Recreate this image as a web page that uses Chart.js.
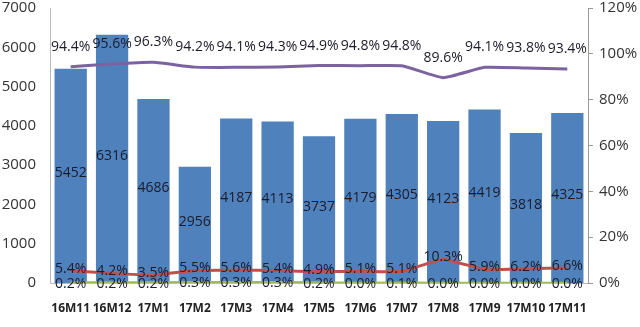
<!DOCTYPE html>
<html>
<head>
<meta charset="utf-8">
<script src="https://cdn.jsdelivr.net/npm/chart.js@4"></script>
<style>
  html, body { margin: 0; padding: 0; background: #fff; overflow: hidden; }
  #wrap { width: 640px; height: 342px; position: relative; top: -15px; }
</style>
</head>
<body>
<div id="wrap"><canvas id="c"></canvas></div>
<script>
// values
const months = ['16M11', '16M12', '17M1', '17M2', '17M3', '17M4', '17M5', '17M6', '17M7', '17M8', '17M9', '17M10', '17M11'];
const counts = [5452, 6316, 4686, 2956, 4187, 4113, 3737, 4179, 4305, 4123, 4419, 3818, 4325];
const rateHigh = [94.4, 95.6, 96.3, 94.2, 94.1, 94.3, 94.9, 94.8, 94.8, 89.6, 94.1, 93.8, 93.4];
const rateMid = [5.4, 4.2, 3.5, 5.5, 5.6, 5.4, 4.9, 5.1, 5.1, 10.3, 5.9, 6.2, 6.6];
const rateLow = [0.2, 0.2, 0.2, 0.3, 0.3, 0.3, 0.2, 0.0, 0.1, 0.0, 0.0, 0.0, 0.0];
const leftTicks = [0, 1000, 2000, 3000, 4000, 5000, 6000, 7000];
const rightTicks = [0, 20, 40, 60, 80, 100, 120];

const FONT = '"Open Sans", sans-serif';

// draws the value labels on bars and points
const valueLabels = {
    id: 'valueLabels',
    afterDatasetsDraw(chart) {
        const ctx = chart.ctx;
        ctx.save();
        ctx.font = '14px ' + FONT;
        ctx.fillStyle = '#1b1b2a';
        ctx.textAlign = 'center';
        ctx.textBaseline = 'middle';
        chart.data.datasets.forEach((ds, i) => {
            const meta = chart.getDatasetMeta(i);
            meta.data.forEach((el, j) => {
                let x = el.x, y = el.y, txt;
                if (ds.type === 'bar') {
                    y = (el.y + el.base) / 2 - 3;
                    txt = String(ds.data[j]);
                } else {
                    txt = ds.data[j].toFixed(1) + '%';
                    y += ds.labelShift;
                }
                ctx.fillText(txt, x, y);
            });
        });
        ctx.restore();
    }
};

const ctx = document.getElementById('c').getContext('2d');
new Chart(ctx, {
    type: 'bar',
    data: {
        labels: months,
        datasets: [
            {
                type: 'line', data: rateHigh, yAxisID: 'y1', order: 0,
                borderColor: '#7b62a0', borderWidth: 3, pointRadius: 0,
                tension: 0.15, labelShift: -20
            },
            {
                type: 'line', data: rateMid, yAxisID: 'y1', order: 0,
                borderColor: '#c0504d', borderWidth: 3, pointRadius: 0,
                tension: 0.15, labelShift: -2
            },
            {
                type: 'line', data: rateLow, yAxisID: 'y1', order: 0,
                borderColor: '#9bbb59', borderWidth: 2.5, pointRadius: 0,
                tension: 0, labelShift: 1
            },
            {
                type: 'bar', data: counts, yAxisID: 'y', order: 1,
                backgroundColor: '#4f81bd',
                barPercentage: 0.78, categoryPercentage: 1.0
            }
        ]
    },
    options: {
        responsive: true,
        maintainAspectRatio: false,
        animation: false,
        layout: { padding: { top: 0, bottom: 0, left: 0, right: 0 } },
        plugins: { legend: { display: false }, tooltip: { enabled: false } },
        scales: {
            x: {
                grid: { display: false },
                border: { display: true, color: '#bbbbbb' },
                ticks: { font: { family: FONT, size: 12, weight: 'bold' }, color: '#222', padding: 10, maxRotation: 0, autoSkip: false },
                afterFit(s) { s.height = 44; }
            },
            y: {
                position: 'left', min: 0, max: 7000,
                afterBuildTicks(s) { s.ticks = leftTicks.map(v => ({ value: v })); },
                grid: { display: false, drawTicks: false },
                border: { display: true, color: '#bbbbbb' },
                ticks: { font: { family: FONT, size: 15 }, color: '#333', padding: 14, callback: v => String(v) },
                afterFit(s) { s.width = 50; }
            },
            y1: {
                position: 'right', min: 0, max: 120,
                afterBuildTicks(s) { s.ticks = rightTicks.map(v => ({ value: v })); },
                grid: { display: true, drawOnChartArea: false, tickLength: 5, color: '#999' },
                border: { display: true, color: '#999' },
                ticks: { font: { family: FONT, size: 15 }, color: '#333', padding: 6, callback: v => v + '%' },
                afterFit(s) { s.width = 52; }
            }
        }
    },
    plugins: [valueLabels]
});
</script>
</body>
</html>
